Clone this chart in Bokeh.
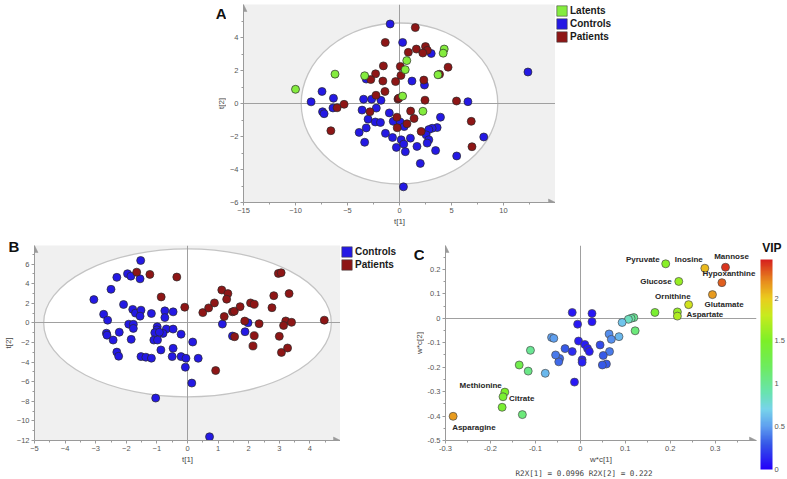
import math
import numpy as np
from bokeh.plotting import figure
from bokeh.models import (Range1d, FixedTicker, Legend, LegendItem, Arrow, NormalHead, Label,
                          ColumnDataSource, LinearColorMapper, CustomJSTickFormatter, Title, ColorBar)
from bokeh.layouts import row, column
from bokeh.transform import transform
from bokeh.embed import file_html
from bokeh.resources import INLINE
from bokeh.core.properties import value

# ---------------- Panel A data (t[1], t[2]) ----------------
A_lat_t1 = [-10.0, -6.2, -3.35, 0.7, 0.55, 0.3, 4.3, 4.2, 3.7, 2.25]
A_lat_t2 = [0.86, 1.78, 1.68, 2.6, 2.05, 0.45, 3.3, 3.05, 1.74, -0.47]

A_con_t1 = [-0.9, 0.3, 3.05, -3.2, 1.2, 2.4, -7.45, -8.5, -6.35, -7.4, -7.25, -6.4,
            -3.45, -2.68, -1.78, -3.6, -2.23, -3.02, -2.33, -1.83, -0.98, -0.6, 0.06, 0.45,
            -3.2, -3.88, -1.35, -3.35, -0.67, 0.16, 1.05, -0.3, 0.41, 0.56, 1.68, 2.0, 0.38,
            3.94, 3.62, 3.14, 2.82, 2.56, 2.82, 2.66, 3.47, 6.58, 5.5, 8.1, 12.35]
A_con_t2 = [4.82, 3.7, 3.03, 1.48, 1.36, 1.12, 0.73, 0.1, 0.32, -0.5, -0.62, -0.27,
            0.26, 0.26, 0.19, -0.4, -0.28, -0.95, -1.12, -1.15, -0.57, -1.08, -1.12, -1.4,
            -1.48, -1.75, -1.81, -2.35, -2.06, -2.2, -2.1, -2.66, -2.46, -2.92, -2.6, -3.63, -5.05,
            -0.83, -1.46, -1.5, -1.58, -1.9, -2.2, -2.4, -2.85, 0.11, -3.18, -2.03, 1.91]

A_pat_t1 = [1.52, -1.37, 0.85, 1.62, 2.5, 2.68, 2.24, -1.55, 0.08, 4.67, -2.3, -2.76, 0.14,
            -1.6, -0.38, 2.34, 3.85, -1.4, -2.26, -0.15, -0.05, 2.45, 5.48, -6.0, -5.33,
            -2.84, 1.07, 1.4, -0.25, 0.72, -0.22, 2.08, -6.6, 6.9, 6.97]
A_pat_t2 = [4.6, 3.7, 3.1, 3.3, 3.45, 3.22, 3.06, 2.28, 2.25, 2.2, 1.8, 1.45, 1.7,
            1.36, 1.33, 1.42, 1.77, 0.73, 0.5, 0.27, 0.33, 0.2, 0.15, -0.26, -0.05,
            -0.5, -0.46, -0.91, -0.83, -1.23, -1.47, -1.69, -1.65, -1.08, -2.62]

A_ellipse = (9.45, 4.88)          # semi-axes of the confidence ellipse
A_xticks = [-15, -10, -5, 0, 5, 10]
A_yticks = [-6, -4, -2, 0, 2, 4]

# ---------------- Panel B data ----------------
B_con_t1 = [-1.53, -2.31, -1.96, -1.85, -1.55, -2.5, -3.06, -2.09, -2.74, -2.61, -1.79, -1.7,
            -1.52, -1.55, -1.18, -1.92, -1.77, -1.77, -0.74, -0.74, -0.47, -0.69, -0.47, -0.8,
            -0.21, -2.65, -2.63, -2.23, -2.43, -1.84, -2.31, -2.25, -1.52, -1.36, -1.18, -0.87,
            -0.47, -0.5, -0.21, -0.05, 0.35, 0.17, -0.07, 0.14, -1.04, 0.72, 1.14, 1.98, 1.88,
            1.47, -0.99, -1.0, -1.07, -0.92, -1.1, -0.98]
B_con_t2 = [6.37, 4.65, 5.02, 4.77, 4.5, 3.43, 2.38, 1.88, 0.88, 0.28, 1.38, 1.0,
            1.3, 0.69, 0.96, -0.13, -0.14, -0.56, 1.23, 0.54, 1.13, -0.62, -0.63, -1.07,
            -1.15, -1.05, -1.25, -0.95, -1.75, -1.68, -2.98, -3.4, -3.44, -3.5, -3.6, -2.76,
            -2.59, -3.44, -3.44, -3.61, -3.61, -1.95, -4.52, -6.14, -7.67, -11.62, -0.12, 0.01, -0.9,
            -1.34, -0.4, -0.7, -1.0, -0.95, -1.75, -1.75]

B_pat_t1 = [-1.66, -1.23, -0.35, -0.86, -0.09, 0.5, 0.69, 0.88, 1.12, 1.32, 1.28, 1.47, 1.53,
            1.72, 1.2, 2.06, 2.18, 1.87, 2.34, 2.18, 2.14, 1.54, 0.92, 2.82, 2.76, 2.97, 3.06,
            3.32, 3.21, 3.14, 3.4, 3.0, 3.07, 3.27, 4.47]
B_pat_t2 = [5.18, 4.95, 4.68, 2.65, 1.6, 1.05, 1.53, 2.04, 3.36, 2.99, 2.42, 1.13, 1.19,
            1.66, 0.65, 2.04, 1.9, 0.19, -0.08, -1.3, -2.35, -1.41, -4.86, 2.78, 1.55, 5.05, 5.12,
            2.99, 0.2, -0.26, 0.06, -1.37, -3.01, -2.56, 0.28]

B_ellipse = (4.7, 7.55)
B_xticks = [-5, -4, -3, -2, -1, 0, 1, 2, 3, 4]
B_yticks = [-12, -10, -8, -6, -4, -2, 0, 2, 4, 6]

# ---------------- Panel C data (loadings, VIP) ----------------
C_name = ["Pyruvate", "Inosine", "Mannose", "Hypoxanthine", "Glucose", "Glutamate", "Ornithine",
          "", "Aspartate", "", "", "", "", "", "", "", "", "", "", "", "", "", "",
          "", "", "", "", "", "", "", "", "", "", "", "", "", "", "", "", "", "",
          "", "", "", "", "", "Methionine", "Citrate", "", "Asparagine"]
C_w1 = [0.190, 0.277, 0.323, 0.315, 0.219, 0.294, 0.241,
        0.216, 0.216, 0.166, 0.119, 0.113, 0.107, 0.122, 0.093, 0.086, 0.064, 0.069, 0.065, 0.044,
        0.051, 0.058, 0.049,
        0.026, 0.026, -0.018, -0.006, -0.004, 0.010, 0.016, 0.020, 0.004, 0.004, -0.018, -0.034,
        -0.046, -0.048, -0.055, -0.064, -0.059, -0.078,
        -0.111, -0.116, -0.136, -0.129, -0.013, -0.168, -0.172, -0.174, -0.283]
C_w2 = [0.223, 0.205, 0.209, 0.146, 0.151, 0.097, 0.056,
        0.026, 0.009, 0.024, 0.003, 0.0, -0.004, -0.051, -0.017, -0.075, -0.064, -0.086, -0.136, -0.109,
        -0.152, -0.187, -0.191,
        0.020, -0.014, 0.024, -0.024, -0.093, -0.107, -0.123, -0.136, -0.170, -0.180, -0.136, -0.124,
        -0.164, -0.178, -0.150, -0.078, -0.082, -0.225,
        -0.131, -0.216, -0.191, -0.394, -0.261, -0.302, -0.321, -0.364, -0.401]
C_vip = [1.55, 2.05, 2.4, 2.3, 1.6, 2.15, 1.85,
         1.6, 1.7, 1.45, 1.0, 0.95, 0.85, 1.1, 0.65, 0.6, 0.45, 0.45, 0.4, 0.25,
         0.3, 0.3, 0.3,
         0.08, 0.08, 0.08, 0.08, 0.1, 0.1, 0.1, 0.1, 0.12, 0.12, 0.15, 0.3,
         0.35, 0.35, 0.4, 0.5, 0.5, 0.6,
         1.0, 1.05, 1.3, 1.1, 0.08, 1.5, 1.45, 1.45, 2.15]
C_xticks = [-0.3, -0.2, -0.1, 0, 0.1, 0.2, 0.3]
C_yticks = [-0.5, -0.4, -0.3, -0.2, -0.1, 0, 0.1, 0.2]
VIP_ticks = [0, 0.5, 1, 1.5, 2]
VIP_high = 2.45
R2X_text = "R2X[1] = 0.0996 R2X[2] = 0.222"

# ---------------- styles ----------------
BLUE = "#2419e4"
RED = "#8e1616"
GREEN = "#84ec3e"
AX = "#9a9a9a"
BG = "#f0f0f0"
FONT = "Liberation Sans"
label_style = {  # align, x offset, y offset (pixels)
    "Pyruvate": ("right", -6, -4), "Inosine": ("right", -2, -9), "Mannose": ("center", 6, -11),
    "Hypoxanthine": ("center", 7, -9), "Glucose": ("right", -7, 0), "Ornithine": ("right", 2, -8),
    "Glutamate": ("left", -8, 10), "Aspartate": ("left", 9, -2), "Methionine": ("right", -3, -7),
    "Citrate": ("left", 6, 2), "Asparagine": ("left", -1, 11),
}

# jet-like palette for VIP
anc_v = [0.0, 0.3, 0.5, 0.7, 0.9, 1.2, 1.5, 1.8, 2.0, 2.2, 2.45]
anc_c = [(35, 0, 250), (55, 90, 232), (95, 160, 240), (120, 212, 235), (105, 228, 175),
         (110, 236, 95), (125, 240, 40), (200, 235, 30), (235, 205, 30), (232, 140, 30), (215, 32, 30)]
vv = np.linspace(0, VIP_high, 256)
palette = []
for v in vv:
    r = np.interp(v, anc_v, [c[0] for c in anc_c])
    g = np.interp(v, anc_v, [c[1] for c in anc_c])
    b = np.interp(v, anc_v, [c[2] for c in anc_c])
    palette.append("#%02x%02x%02x" % (int(r), int(g), int(b)))
mapper = LinearColorMapper(palette=palette, low=0, high=VIP_high)

FIG = dict(output_backend="svg", toolbar_location=None)
FMT = "return Number(tick.toFixed(3)).toString();"

# row borders (equal inside a row, so frame alignment changes nothing)
TOP_A, BOT_A = 4, 26
TOP_B, BOT_B = 17, 38
H_A, H_B = 228, 250


def minors(ticks):
    step = ticks[1] - ticks[0]
    return [t + step / 2 for t in ticks]


def style(p, xticks, yticks, xlabel, ylabel, fmt=False):
    p.xaxis.ticker = FixedTicker(ticks=xticks, minor_ticks=minors(xticks))
    p.yaxis.ticker = FixedTicker(ticks=yticks, minor_ticks=minors(yticks))
    p.xaxis.axis_label = xlabel
    if ylabel:
        p.yaxis.axis_label = ylabel
    p.grid.visible = False
    p.outline_line_color = None
    for ax in p.axis:
        ax.axis_line_color = AX
        ax.major_tick_line_color = AX
        ax.minor_tick_line_color = AX
        ax.major_tick_in = 0
        ax.major_tick_out = 3
        ax.minor_tick_in = 0
        ax.minor_tick_out = 2
        ax.major_label_text_font = FONT
        ax.major_label_text_font_size = "7.5px"
        ax.major_label_text_color = "#555555"
        ax.major_label_standoff = 2
        ax.axis_label_text_font = FONT
        ax.axis_label_text_font_size = "8px"
        ax.axis_label_text_font_style = "normal"
        ax.axis_label_text_color = "#444444"
        ax.axis_label_standoff = 1
        if fmt:
            ax.formatter = CustomJSTickFormatter(code=FMT)
    xr, yr = p.x_range, p.y_range
    head = dict(size=7, fill_color=AX, line_color=AX, line_width=0.5)
    p.add_layout(Arrow(end=NormalHead(**head), x_start=xr.start, y_start=yr.start,
                       x_end=xr.end, y_end=yr.start, line_color=None))
    p.add_layout(Arrow(end=NormalHead(**head), x_start=xr.start, y_start=yr.start,
                       x_end=xr.start, y_end=yr.end, line_color=None))


def crosshair(p):
    p.hspan(y=[0], line_color="#a0a0a0", line_width=1)
    p.vspan(x=[0], line_color="#a0a0a0", line_width=1)


def set_title(p, txt, align, offset, size):
    p.title.text = txt
    p.title.align = align
    p.title.offset = offset
    p.title.standoff = -19
    p.title.text_font = FONT
    p.title.text_font_size = size
    p.title.text_font_style = "bold"
    p.title.text_color = "#111111"


def blank_fig(width, height, top, bottom):
    f = figure(width=width, height=height, x_range=Range1d(0, 1), y_range=Range1d(0, 1),
               x_axis_location=None, y_axis_location=None, min_border_left=0, min_border_right=0,
               min_border_top=top, min_border_bottom=bottom, outline_line_color=None, **FIG)
    f.grid.visible = False
    return f


def corner_letter(f, txt):
    f.add_layout(Label(x=1, y=1, text=txt, text_align="right", text_baseline="top",
                       text_font=FONT, text_font_size="15px", text_font_style="bold",
                       text_color="#111111"))


def side_axis_label(f, txt):
    # y-axis title of the neighbouring panel, drawn at this strip's right edge
    f.add_layout(Label(x=1, y=0.5, text=txt, angle=math.pi / 2, text_align="center",
                       text_baseline="bottom", y_offset=0, x_offset=-1, text_font=FONT,
                       text_font_size="8px", text_color="#444444"))


def add_legend(lf, items):
    li = []
    for lab, col in items:
        r = lf.quad(left=[np.nan], right=[np.nan], top=[np.nan], bottom=[np.nan], fill_color=col,
                    line_color="#444444", line_width=0.6)
        li.append(LegendItem(label=lab, renderers=[r]))
    leg = Legend(items=li, location="top_left", margin=0, padding=0, spacing=0,
                 glyph_width=13, glyph_height=13, label_height=13, label_standoff=2,
                 label_text_font=FONT, label_text_font_size="10px", label_text_font_style="bold",
                 label_text_color="#1a1a1a", border_line_color=None, background_fill_alpha=0)
    lf.add_layout(leg)


PT = dict(size=8, line_color="#2a2a2a", line_width=0.7)

# ---------------- top row: letter A, panel A, legend A ----------------
sA = blank_fig(226, H_A, TOP_A, BOT_A)
corner_letter(sA, "A")
side_axis_label(sA, "t[2]")

pA = figure(width=329, height=H_A, x_range=Range1d(-15, 15), y_range=Range1d(-6, 6),
            background_fill_color=BG, min_border_left=17, min_border_right=0,
            min_border_top=TOP_A, min_border_bottom=BOT_A, **FIG)
pA.ellipse(x=[0], y=[0], width=[2 * A_ellipse[0]], height=[2 * A_ellipse[1]],
           fill_color="white", line_color="#c4c4c4", line_width=1.3)
crosshair(pA)
pA.scatter(A_con_t1, A_con_t2, fill_color=BLUE, **PT)
pA.scatter(A_pat_t1, A_pat_t2, fill_color=RED, **PT)
pA.scatter(A_lat_t1, A_lat_t2, fill_color=GREEN, **PT)
style(pA, A_xticks, A_yticks, "t[1]", None)
lA = blank_fig(62, H_A, TOP_A, BOT_A)
add_legend(lA, [("Latents", GREEN), ("Controls", BLUE), ("Patients", RED)])

# ---------------- bottom row: panel B, legend B (+ letter C), panel C (+ VIP bar) ----------------
pB = figure(width=340, height=H_B, x_range=Range1d(-5, 5), y_range=Range1d(-12, 7.9),
            background_fill_color=BG, min_border_left=30, min_border_right=0,
            min_border_top=TOP_B, min_border_bottom=BOT_B, **FIG)
pB.ellipse(x=[0], y=[0], width=[2 * B_ellipse[0]], height=[2 * B_ellipse[1]],
           fill_color="white", line_color="#c4c4c4", line_width=1.3)
crosshair(pB)
pB.scatter(B_con_t1, B_con_t2, fill_color=BLUE, **PT)
pB.scatter(B_pat_t1, B_pat_t2, fill_color=RED, **PT)
style(pB, B_xticks, B_yticks, "t[1]", "t[2]")
set_title(pB, "B", "left", -26, "15px")

lB = blank_fig(84, H_B, TOP_B, BOT_B)
add_legend(lB, [("Controls", BLUE), ("Patients", RED)])
corner_letter(lB, "C")
side_axis_label(lB, "w*c[2]")

pC = figure(width=363, height=H_B, x_range=Range1d(-0.3, 0.392), y_range=Range1d(-0.5, 0.298),
            background_fill_color="white", min_border_left=20, min_border_right=31,
            min_border_top=TOP_B, min_border_bottom=BOT_B, **FIG)
crosshair(pC)
srcC = ColumnDataSource(dict(w1=C_w1, w2=C_w2, vip=C_vip, name=C_name))
pC.scatter("w1", "w2", source=srcC, size=8, fill_color=transform("vip", mapper),
           line_color="#4a4a4a", line_width=0.7)
for al in ["left", "right", "center"]:
    idx = [i for i, n in enumerate(C_name) if n and label_style[n][0] == al]
    s = ColumnDataSource(dict(x=[C_w1[i] for i in idx], y=[C_w2[i] for i in idx],
                              t=[C_name[i] for i in idx],
                              dx=[label_style[C_name[i]][1] for i in idx],
                              dy=[label_style[C_name[i]][2] for i in idx]))
    pC.text("x", "y", text="t", source=s, x_offset="dx", y_offset="dy", text_align=al,
            text_baseline="middle", text_font=value(FONT), text_font_size="8px",
            text_font_style="bold", text_color="#262626")
style(pC, C_xticks, C_yticks, "w*c[1]", None, fmt=True)
pC.add_layout(Title(text=R2X_text, align="left", offset=70, text_font="DejaVu Sans Mono",
                    text_font_size="7.6px", text_font_style="normal", text_color="#444444",
                    standoff=0), "below")
set_title(pC, "VIP", "right", -25, "12px")
cb = ColorBar(color_mapper=mapper, ticker=FixedTicker(ticks=VIP_ticks),
              formatter=CustomJSTickFormatter(code=FMT), width=12, height=210,
              location=(4, -29), orientation="vertical", margin=0, padding=0, label_standoff=2,
              major_label_text_font=FONT, major_label_text_font_size="7.5px",
              major_label_text_color="#555555", major_tick_line_color=None,
              minor_tick_line_color=None, bar_line_color=None, border_line_color=None,
              background_fill_alpha=0)
pC.add_layout(cb, "right")

layout = column(row(sA, pA, lA), row(pB, lB, pC))
open("out.html", "w").write(file_html(layout, INLINE))
